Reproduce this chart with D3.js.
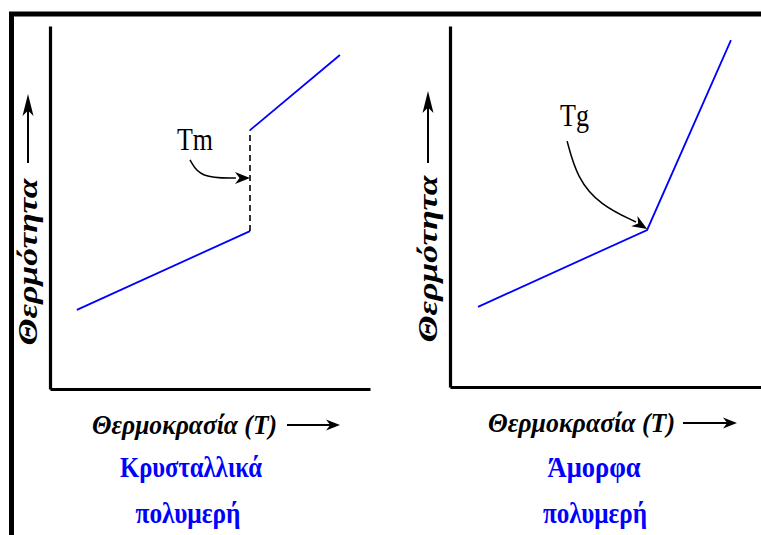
<!DOCTYPE html>
<html><head><meta charset="utf-8">
<script src="https://cdn.jsdelivr.net/npm/d3@7/dist/d3.min.js"></script>
<style>html,body{margin:0;padding:0;background:#fff;}svg{display:block;}</style>
</head><body>
<svg id="c" width="761" height="535"></svg>
<script>
// ---- data (Temperature vs Heat, arbitrary units 0..100) ----
const crystallineT = [8.4, 62.5, 62.5, 90.6];
const crystallineH = [21.8, 43.5, 71.3, 92.0];
const amorphousT = [8.75, 61.6, 87.8];
const amorphousH = [22.2, 43.5, 96.1];
const xLabel = "Θερμοκρασία (T)";
const yLabel = "Θερμότητα";
const titlesLeft = ["Κρυσταλλικά", "πολυμερή"];
const titlesRight = ["Άμορφα", "πολυμερή"];
const tmLabel = "Tm";
const tgLabel = "Tg";
const tmArrowT = [43.75, 46.9, 58.1, 62.5];
const tmArrowH = [63.1, 58.1, 58.1, 58.1];
const tgArrowT = [36.6, 39.7, 46.9, 58.1, 61.6];
const tgArrowH = [68.1, 57.9, 50.4, 45.7, 43.8];

const svg = d3.select("#c");
const serif = "'Liberation Serif','DejaVu Serif',serif";

// outer frame
svg.append("rect").attr("x", 11.5).attr("y", 14).attr("width", 800).attr("height", 600)
  .attr("fill", "none").attr("stroke", "#000").attr("stroke-width", 5);

function arrowHead(g, tip, from, len, hw, notch) {
  const dx = tip[0] - from[0], dy = tip[1] - from[1];
  const d = Math.hypot(dx, dy); const ux = dx / d, uy = dy / d;
  const px = -uy, py = ux;
  const bx = tip[0] - ux * len, by = tip[1] - uy * len;
  const nx = tip[0] - ux * len * notch, ny = tip[1] - uy * len * notch;
  g.append("path").attr("d", `M${tip[0]},${tip[1]}L${bx + px * hw},${by + py * hw}L${nx},${ny}L${bx - px * hw},${by - py * hw}Z`)
    .attr("fill", "#000");
}

function panel(cfg) {
  const g = svg.append("g");
  const x = d3.scaleLinear().domain([0, 100]).range(cfg.xr);
  const y = d3.scaleLinear().domain([0, 100]).range(cfg.yr);
  // axes (plain L-shaped)
  const xAxis = d3.axisBottom(x).tickValues([]).tickSizeOuter(0);
  const yAxis = d3.axisLeft(y).tickValues([]).tickSizeOuter(0);
  g.append("g").attr("transform", `translate(0,${cfg.yr[0]})`).call(xAxis)
    .select(".domain").attr("stroke-width", 3.2).attr("stroke", "#000");
  g.append("g").attr("transform", `translate(${cfg.xr[0]},0)`).call(yAxis)
    .select(".domain").attr("stroke-width", 3.2).attr("stroke", "#000");
  // data line
  const pts = cfg.T.map((t, i) => [t, cfg.H[i]]);
  const line = d3.line().x(d => x(d[0])).y(d => y(d[1]));
  if (cfg.dashIndex != null) {
    const k = cfg.dashIndex;
    g.append("path").attr("d", line(pts.slice(0, k + 1))).attr("fill", "none").attr("stroke", "#0000ff").attr("stroke-width", 1.8);
    g.append("path").attr("d", line(pts.slice(k, k + 2))).attr("fill", "none").attr("stroke", "#000").attr("stroke-width", 1.6).attr("stroke-dasharray", "6,4");
    g.append("path").attr("d", line(pts.slice(k + 1))).attr("fill", "none").attr("stroke", "#0000ff").attr("stroke-width", 1.8);
  } else {
    g.append("path").attr("d", line(pts)).attr("fill", "none").attr("stroke", "#0000ff").attr("stroke-width", 1.8);
  }
  // annotation
  const ap = cfg.aT.map((t, i) => [x(t), y(cfg.aH[i])]);
  const curve = d3.line().curve(d3.curveBasis);
  g.append("path").attr("d", curve(ap.slice(0, ap.length - 1))).attr("fill", "none").attr("stroke", "#000").attr("stroke-width", 1.5);
  arrowHead(g, ap[ap.length - 1], ap[ap.length - 2], 15, 6, 0.7);
  g.append("text").attr("x", x(cfg.lblT)).attr("y", y(cfg.lblH)).text(cfg.lbl)
    .attr("font-family", serif).attr("font-size", 31).attr("fill", "#000")
    .attr("textLength", cfg.lblW).attr("lengthAdjust", "spacingAndGlyphs");
  // x label with arrow
  g.append("text").attr("x", cfg.xl.x).attr("y", cfg.xl.y).text(xLabel)
    .attr("font-family", serif).attr("font-style", "italic").attr("font-weight", "bold").attr("font-size", 28)
    .attr("textLength", cfg.xl.w).attr("lengthAdjust", "spacingAndGlyphs");
  g.append("line").attr("x1", cfg.xa[0]).attr("x2", cfg.xa[1] - 8).attr("y1", cfg.xa[2]).attr("y2", cfg.xa[2])
    .attr("stroke", "#000").attr("stroke-width", 2);
  arrowHead(g, [cfg.xa[1], cfg.xa[2]], [cfg.xa[0], cfg.xa[2]], 14, 5.5, 0.7);
  // y label with arrow
  g.append("text").attr("transform", `translate(${cfg.yl.x},${cfg.yl.y}) rotate(-90)`).attr("text-anchor", "middle").text(yLabel)
    .attr("font-family", serif).attr("font-style", "italic").attr("font-weight", "bold").attr("font-size", 28)
    .attr("textLength", cfg.yl.w).attr("lengthAdjust", "spacingAndGlyphs");
  g.append("line").attr("x1", cfg.ya[2]).attr("x2", cfg.ya[2]).attr("y1", cfg.ya[0]).attr("y2", cfg.ya[1] + 10)
    .attr("stroke", "#000").attr("stroke-width", 2);
  arrowHead(g, [cfg.ya[2], cfg.ya[1]], [cfg.ya[2], cfg.ya[0]], 22, 5.5, 0.75);
  // titles
  cfg.titles.forEach((t, i) => {
    g.append("text").attr("x", cfg.tl[i].x).attr("y", cfg.tl[i].y).attr("text-anchor", "middle").text(t)
      .attr("font-family", serif).attr("font-weight", "bold").attr("font-size", 29).attr("fill", "#0000ff")
      .attr("textLength", cfg.tl[i].w).attr("lengthAdjust", "spacingAndGlyphs");
  });
}

panel({
  xr: [50, 370], yr: [389, 26], T: crystallineT, H: crystallineH, dashIndex: 1,
  aT: tmArrowT, aH: tmArrowH, lbl: tmLabel, lblT: 39.7, lblH: 65.8, lblW: 36,
  xl: { x: 92, y: 434, w: 185 }, xa: [287, 340, 425],
  yl: { x: 37, y: 262, w: 167 }, ya: [163, 94, 28],
  titles: titlesLeft, tl: [{ x: 191, y: 477, w: 142 }, { x: 188, y: 523, w: 105 }]
});
panel({
  xr: [450, 770], yr: [387, 26], T: amorphousT, H: amorphousH, dashIndex: null,
  aT: tgArrowT, aH: tgArrowH, lbl: tgLabel, lblT: 34.4, lblH: 72.3, lblW: 29,
  xl: { x: 488, y: 432, w: 187 }, xa: [683, 737, 423],
  yl: { x: 437, y: 259, w: 167 }, ya: [163, 91, 428],
  titles: titlesRight, tl: [{ x: 594, y: 477, w: 93 }, { x: 595, y: 523, w: 104 }]
});
</script>
</body></html>
